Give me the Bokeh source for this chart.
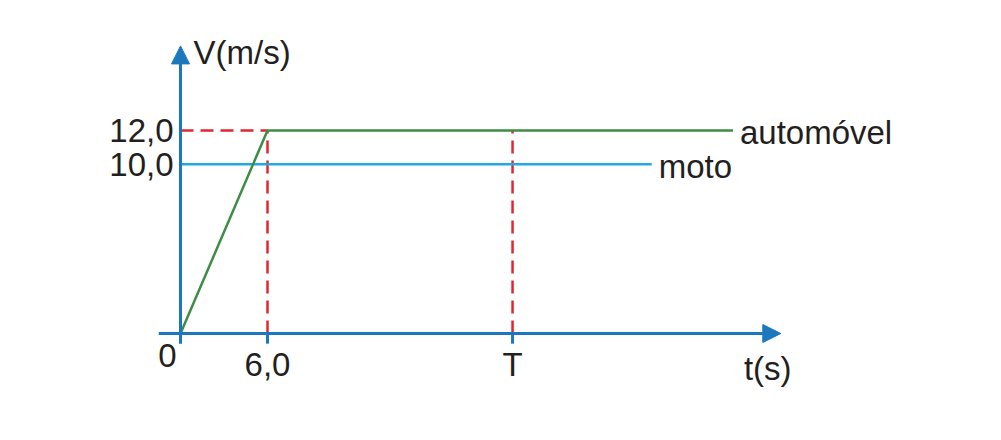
import numpy as np
from bokeh.core.properties import value
from bokeh.embed import file_html
from bokeh.models import Arrow, NormalHead, Range1d
from bokeh.plotting import figure
from bokeh.resources import INLINE

# Data
t_auto = [0, 6.0, 38.1]
v_auto = [0, 12.0, 12.0]
t_moto = [0, 32.5]
v_moto = [10.0, 10.0]
t_mark = [6.0, 22.9]          # 6,0 and T
t_mark_labels = ["6,0", "T"]
v_mark = [12.0, 10.0]
v_mark_labels = ["12,0", "10,0"]
series_names = ["automóvel", "moto"]

AXIS = "#1b78bd"
GREEN = "#3f8c46"
CYAN = "#22a9e0"
RED = "#e0262f"
TEXT = "#231f20"
FONT = value("Liberation Sans")

W, H = 985, 424
x0_px, y0_px = 180, 91          # origin inside the canvas (from left, from bottom)
sx, sy = 87 / 6.0, 203 / 12.0   # px per data unit

p = figure(width=W, height=H, output_backend="svg", toolbar_location=None,
           min_border=0, tools="")
p.x_range = Range1d(-x0_px / sx, (W - x0_px) / sx)
p.y_range = Range1d(-y0_px / sy, (H - y0_px) / sy)
p.axis.visible = False
p.grid.grid_line_color = None
p.outline_line_color = None
p.background_fill_color = "white"

# axes with arrows
p.add_layout(Arrow(end=NormalHead(size=18, fill_color=AXIS, line_color=AXIS),
                   x_start=-1.5, y_start=0, x_end=41.4, y_end=0,
                   line_color=AXIS, line_width=3))
p.add_layout(Arrow(end=NormalHead(size=18, fill_color=AXIS, line_color=AXIS),
                   x_start=0, y_start=-0.6, x_end=0, y_end=17.0,
                   line_color=AXIS, line_width=3))

# ticks below the time axis
p.segment(x0=t_mark, y0=[0, 0], x1=t_mark, y1=[-0.6, -0.6],
          line_color=AXIS, line_width=3)

# red dashed guides
p.segment(x0=t_mark, y0=[0, 0], x1=t_mark, y1=[v_auto[1]] * 2,
          line_color=RED, line_width=2.5, line_dash="13 7")
p.segment(x0=[0], y0=[v_auto[1]], x1=[t_auto[1]], y1=[v_auto[1]],
          line_color=RED, line_width=2.5, line_dash="13 7")

# series
p.line(t_moto, v_moto, line_color=CYAN, line_width=2.5)
p.line(t_auto, v_auto, line_color=GREEN, line_width=2.5)

txt = dict(text_font=FONT, text_font_size="33px", text_color=TEXT)

# series labels
p.text(x=[t_auto[-1], t_moto[-1]], y=[v_auto[-1], v_moto[-1]], text=series_names,
       x_offset=7, y_offset=2, text_align="left", text_baseline="middle", **txt)

# value labels
p.text(x=[0, 0], y=v_mark, text=v_mark_labels, x_offset=-7,
       text_align="right", text_baseline="middle", **txt)
p.text(x=t_mark, y=[0, 0], text=t_mark_labels, y_offset=31,
       text_align="center", text_baseline="middle", **txt)
p.text(x=[0], y=[0], text=["0"], x_offset=-13, y_offset=22,
       text_align="center", text_baseline="middle", **txt)

# axis titles
p.text(x=[0], y=[16.6], text=["V(m/s)"], x_offset=13,
       text_align="left", text_baseline="middle", **txt)
p.text(x=[40.5], y=[0], text=["t(s)"], y_offset=35,
       text_align="center", text_baseline="middle", **txt)

open("out.html", "w").write(file_html(p, INLINE))
